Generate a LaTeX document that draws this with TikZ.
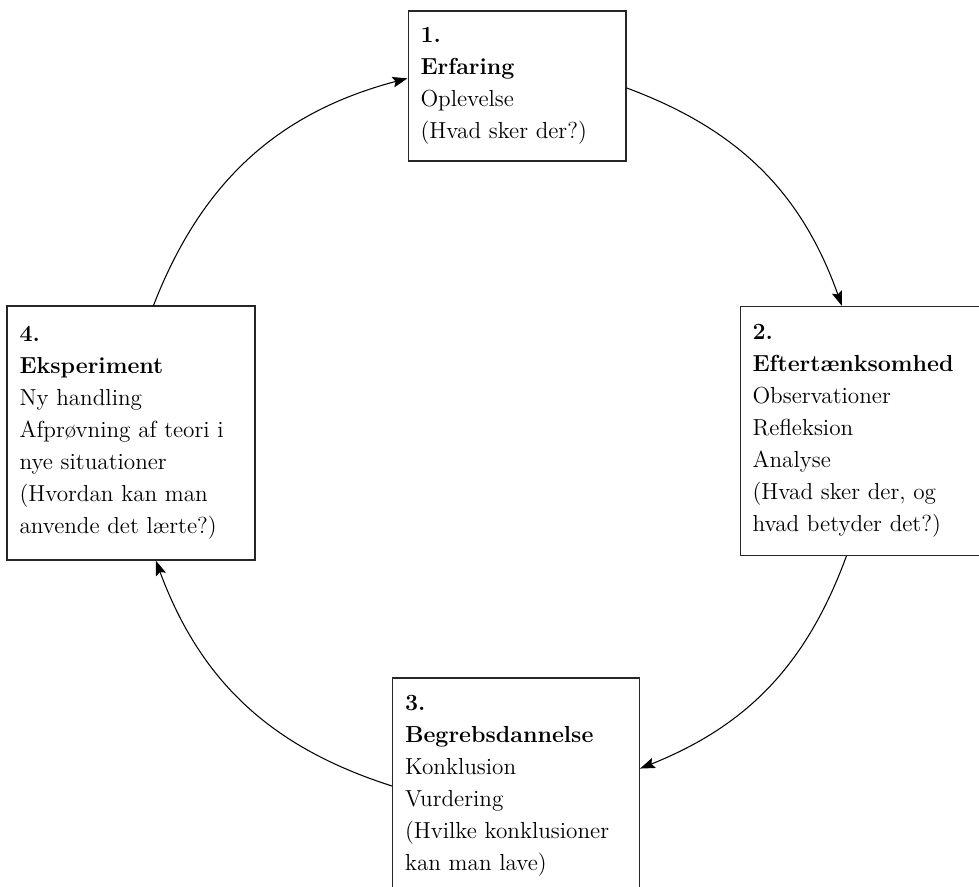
\documentclass[tikz,border=0pt]{standalone}
\usepackage{fontspec}
\usepackage{tikz}
\usetikzlibrary{positioning,arrows.meta}

\tikzset{
  stagebox/.style={draw=black!85, line width=0.6pt, align=left,
    inner xsep=0.25cm, inner ysep=0pt,
    font=\fontsize{13.2pt}{18.2pt}\selectfont},
  cyclearrow/.style={draw=black, line width=0.6pt,
    -{Stealth[length=8.5pt,width=6pt,inset=1.5pt]}}
}

\begin{document}
\begin{tikzpicture}[x=0.02cm,y=0.02cm]
  \useasboundingbox (0,0) rectangle (979,886);
  \clip (0,0) rectangle (979,886);
  % the four stages
  \node[stagebox, minimum width=4.36cm, minimum height=3cm, text width=3.86cm]
    (erfaring) at (517,800)
    {\textbf{1.}\\ \textbf{Erfaring}\\ Oplevelse\\ (Hvad sker der?)};
  \node[stagebox, minimum width=4.96cm, minimum height=4.98cm, text width=4.46cm]
    (eftertanke) at (864,455)
    {\textbf{2.}\\ \textbf{Eftertænksomhed}\\ Observationer\\ Refleksion\\ Analyse\\
     (Hvad sker der, og\\ hvad betyder det?)};
  \node[stagebox, minimum width=4.94cm, minimum height=4.32cm, text width=4.44cm]
    (begreb) at (516,100)
    {\textbf{3.}\\ \textbf{Begrebsdannelse}\\ Konklusion\\ Vurdering\\
     (Hvilke konklusioner\\ kan man lave)};
  \node[stagebox, minimum width=4.96cm, minimum height=5.08cm, text width=4.46cm]
    (eksperiment) at (131,453)
    {\textbf{4.}\\ \textbf{Eksperiment}\\ Ny handling\\ Afprøvning af teori i\\
     nye situationer\\ (Hvordan kan man\\ anvende det lærte?)};
  % the cycle
  \path[cyclearrow] (eksperiment.80) to[bend left=27] (erfaring.176);
  \path[cyclearrow] (erfaring.-1) to[bend left=25] (eftertanke.100);
  \path[cyclearrow] (eftertanke.262) to[bend left=24] (begreb.8);
  \path[cyclearrow] (begreb.180) to[bend left=26] (eksperiment.281);
\end{tikzpicture}
\end{document}
